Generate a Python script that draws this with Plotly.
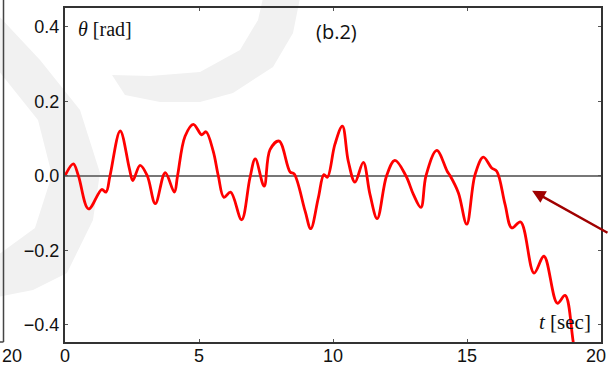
import plotly.graph_objects as go

# ---- data (t [sec], theta [rad]) ----
t_vals = [0.0, 0.31, 0.5, 0.88, 1.37, 1.53, 1.68, 2.06, 2.4, 2.53, 2.80, 3.07, 3.37,
          3.74, 4.08, 4.2, 4.48, 4.79, 5.10, 5.26, 5.53, 5.72, 5.93, 6.18, 6.59, 6.9,
          7.10, 7.43, 7.65, 7.99, 8.40, 8.55, 8.96, 9.17, 9.45, 9.66, 9.79, 10.07,
          10.35, 10.57, 10.82, 11.13, 11.38, 11.65, 12.0, 12.31, 12.72, 13.0, 13.28,
          13.47, 13.87, 14.26, 14.37, 14.68, 14.99, 15.3, 15.61, 15.92, 16.11, 16.42,
          16.67, 17.0, 17.5, 17.87, 18.37, 18.66, 18.97, 19.2]
theta_vals = [0.0, 0.032, 0.0, -0.089, -0.037, -0.044, 0.0, 0.12, 0.02, -0.013, 0.028,
              0.0, -0.075, 0.008, -0.044, 0.0, 0.106, 0.138, 0.11, 0.118, 0.066, 0.0,
              -0.058, -0.044, -0.118, -0.006, 0.045, -0.028, 0.07, 0.093, 0.01, 0.005,
              -0.095, -0.142, -0.06, 0.003, -0.004, 0.084, 0.133, 0.039, -0.017, 0.036,
              -0.05, -0.115, 0.0, 0.041, 0.0, -0.05, -0.085, 0.0, 0.068, 0.012, 0.0,
              -0.046, -0.13, 0.003, 0.05, 0.021, 0.012, -0.077, -0.14, -0.124, -0.261,
              -0.216, -0.342, -0.321, -0.449, -0.55]

x_ticks = [0, 5, 10, 15, 20]
x_tick_text = ["0", "5", "10", "15", ""]   # last label "20" placed by annotation so it fits
y_ticks = [-0.4, -0.2, 0.0, 0.2, 0.4]
y_tick_text = ["\u22120.4", "\u22120.2", "0.0", "0.2", "0.4"]

W, H = 609, 368
ML, MR, MT, MB = 65, 8, 8, 26
PW, PH = W - ML - MR, H - MT - MB


def px(x):
    return (x - ML) / PW


def py(y):
    return (H - MB - y) / PH


def path(points):
    s = "M " + " L ".join(f"{px(a):.4f},{py(b):.4f}" for a, b in points) + " Z"
    return s


fig = go.Figure()
fig.add_trace(go.Scatter(x=t_vals, y=theta_vals, mode="lines",
                         line=dict(color="#ff0000", width=2.8, shape="spline", smoothing=1.0),
                         hoverinfo="skip", showlegend=False))

# faint watermark bands
wm1 = [(300, -2), (293, 33), (273, 67), (233, 93), (200, 102), (160, 102), (125, 95),
       (112, 75), (150, 76), (200, 72), (240, 50), (258, 20), (263, -2)]
wm2 = [(-2, 15), (40, 60), (80, 110), (100, 173), (93, 220), (67, 273), (33, 290),
       (-2, 297), (-2, 255), (35, 228), (52, 175), (38, 120), (-2, 70)]
shapes = []
for p in (wm1, wm2):
    shapes.append(dict(type="path", xref="paper", yref="paper", path=path(p),
                       fillcolor="#f1f1f1", line=dict(width=0), layer="below"))
# neighbouring panel edge at far left
shapes.append(dict(type="line", xref="paper", yref="paper", x0=px(3.5), x1=px(3.5),
                   y0=py(342), y1=py(-2), line=dict(color="#444", width=1.5)))
shapes.append(dict(type="line", xref="paper", yref="paper", x0=px(-2), x1=px(3.5),
                   y0=py(342), y1=py(342), line=dict(color="#444", width=1.5)))

tick_font = dict(family="Liberation Sans, Arial, sans-serif", size=18, color="#111")

annotations = [
    dict(xref="paper", yref="paper", x=px(76), y=py(28.5), xanchor="left", yanchor="middle",
         text="<i>θ</i> [rad]", showarrow=False,
         font=dict(family="Liberation Serif, Times New Roman, serif", size=20, color="#111")),
    dict(xref="paper", yref="paper", x=px(336), y=py(31), xanchor="center", yanchor="middle",
         text="(b.2)", showarrow=False,
         font=dict(family="Open Sans, sans-serif", size=20, color="#111")),
    dict(xref="paper", yref="paper", x=px(593), y=py(321.5), xanchor="right", yanchor="middle",
         text="<i>t</i> [sec]", showarrow=False,
         font=dict(family="Liberation Serif, Times New Roman, serif", size=21, color="#111")),
    dict(xref="paper", yref="paper", x=px(0), y=py(356), xanchor="left", yanchor="middle",
         text="20", showarrow=False, font=tick_font),
    dict(xref="paper", yref="paper", x=px(608), y=py(356), xanchor="right", yanchor="middle",
         text="20", showarrow=False, font=tick_font),
    dict(x=17.43, y=-0.040, ax=85, ay=43, text="", showarrow=True, arrowhead=2,
         arrowsize=1.1, arrowwidth=2.4, arrowcolor="#a00000", standoff=0),
]

fig.update_layout(
    width=W, height=H,
    margin=dict(l=ML, r=MR, t=MT, b=MB, pad=0),
    paper_bgcolor="white", plot_bgcolor="rgba(0,0,0,0)",
    shapes=shapes, annotations=annotations,
    xaxis=dict(range=[0, 20], tickvals=x_ticks, ticktext=x_tick_text,
               ticks="inside", ticklen=3, tickwidth=1, tickcolor="#555",
               showline=True, linecolor="#333", linewidth=2, mirror="ticks",
               showgrid=False, zeroline=False, automargin=False,
               ticklabeloverflow="allow", ticklabelstandoff=-4,
               tickfont=tick_font),
    yaxis=dict(range=[-0.446, 0.45], tickvals=y_ticks, ticktext=y_tick_text,
               ticks="inside", ticklen=3, tickwidth=1, tickcolor="#555",
               showline=True, linecolor="#333", linewidth=2, mirror="ticks",
               showgrid=False, zeroline=True, zerolinecolor="#777", zerolinewidth=1.5,
               automargin=False, tickfont=tick_font),
)

fig.write_html("out.html")
